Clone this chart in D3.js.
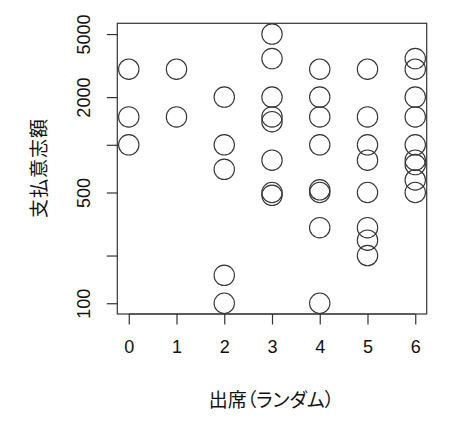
<!DOCTYPE html>
<html>
<head>
<meta charset="utf-8">
<script src="https://cdn.jsdelivr.net/npm/d3@7"></script>
<style>
    body { margin: 0; background: #fff; }
    text { fill: #111; }
    .num { font-family: "Liberation Sans", Arial, sans-serif; font-size: 18px; }
    .lab { font-family: "Noto Sans CJK JP", sans-serif; font-size: 19px; font-feature-settings: "palt"; }
</style>
</head>
<body>
<div id="chart"></div>
<script>
// attendance (x) and willingness to pay (y), one entry per respondent
const attend = [
    0, 0, 0,
    1, 1,
    2, 2, 2, 2, 2,
    3, 3, 3, 3, 3, 3, 3, 3,
    4, 4, 4, 4, 4, 4, 4, 4,
    5, 5, 5, 5, 5, 5, 5, 5,
    6, 6, 6, 6, 6, 6, 6, 6, 6
];
const pay = [
    3000, 1500, 1000,
    3000, 1500,
    2000, 1000, 700, 150, 100,
    5000, 3500, 2000, 1500, 1400, 800, 500, 480,
    3000, 2000, 1500, 1000, 520, 500, 300, 100,
    3000, 1500, 1000, 800, 500, 300, 250, 200,
    3500, 3000, 2000, 1500, 1000, 800, 750, 600, 500
];
const xTicks = [0, 1, 2, 3, 4, 5, 6];
const yTicks = [100, 200, 500, 1000, 2000, 5000];
const yTickLabels = ['100', '', '500', '', '2000', '5000'];
const xTitle = '出席（ランダム）';
const yTitle = '支払意志額';

let width = 450;
let height = 432;
let margin = {top: 23.3, right: 23.3, bottom: 118, left: 117.3};
let ink = '#333';

// R-style 4% padding on each side
let xExt = d3.extent(attend);
let xPad = (xExt[1] - xExt[0]) * 0.04;
let yExt = d3.extent(pay).map(Math.log10);
let yPad = (yExt[1] - yExt[0]) * 0.04;

let x = d3.scaleLinear()
    .domain([xExt[0] - xPad, xExt[1] + xPad])
    .range([margin.left, width - margin.right]);
let y = d3.scaleLog()
    .domain([Math.pow(10, yExt[0] - yPad), Math.pow(10, yExt[1] + yPad)])
    .range([height - margin.bottom, margin.top]);

let svg = d3.select('#chart')
    .append('svg')
    .attr('width', width)
    .attr('height', height);

svg.append('rect')
    .attr('x', margin.left)
    .attr('y', margin.top)
    .attr('width', width - margin.left - margin.right)
    .attr('height', height - margin.top - margin.bottom)
    .style('fill', 'none')
    .style('stroke', ink)
    .style('stroke-width', 1.2);

let xAxis = svg.append('g')
    .attr('transform', `translate(0,${height - margin.bottom})`)
    .call(d3.axisBottom(x).tickValues(xTicks).tickSize(10.5).tickPadding(15).tickFormat(d3.format('d')));
let yAxis = svg.append('g')
    .attr('transform', `translate(${margin.left},0)`)
    .call(d3.axisLeft(y).tickValues(yTicks).tickSize(10.5).tickPadding(0)
        .tickFormat((d, i) => yTickLabels[i]));

[xAxis, yAxis].forEach(g => {
    g.select('.domain').remove();
    g.selectAll('line').style('stroke', ink).style('stroke-width', 1.2);
    g.selectAll('text').attr('class', 'num').style('fill', '#111');
});
xAxis.selectAll('text').attr('dy', null).attr('y', 0)
    .attr('transform', 'translate(0,38.5)');
yAxis.selectAll('text')
    .attr('x', null).attr('dy', null)
    .attr('text-anchor', 'middle')
    .attr('transform', 'translate(-27,0) rotate(-90)');

// x axis line spans first to last tick
svg.append('line')
    .attr('x1', x(xTicks[0])).attr('x2', x(xTicks[xTicks.length - 1]))
    .attr('y1', height - margin.bottom).attr('y2', height - margin.bottom)
    .style('stroke', ink).style('stroke-width', 1.2);

svg.append('g')
    .selectAll('circle')
    .data(attend)
    .enter().append('circle')
    .attr('cx', d => x(d))
    .attr('cy', (d, i) => y(pay[i]))
    .attr('r', 10.2)
    .style('fill', 'none')
    .style('stroke', ink)
    .style('stroke-width', 1.1);

svg.append('text')
    .attr('class', 'lab')
    .attr('x', 271.5)
    .attr('y', 407)
    .attr('text-anchor', 'middle')
    .text(xTitle);

svg.append('text')
    .attr('class', 'lab')
    .attr('transform', 'translate(46,168) rotate(-90)')
    .attr('text-anchor', 'middle')
    .style('letter-spacing', '1px')
    .text(yTitle);
</script>
</body>
</html>
